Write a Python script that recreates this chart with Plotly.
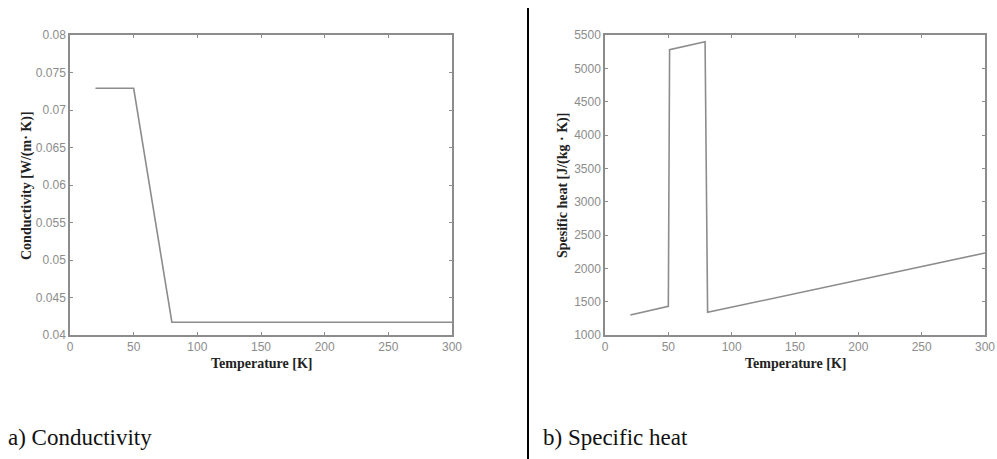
import plotly.graph_objects as go

# Thermal conductivity vs temperature
temp_k = [20, 50, 80, 300]
conductivity = [0.0729, 0.0729, 0.0417, 0.0417]

# Specific heat vs temperature
temp_c = [20, 50, 51, 79, 81, 300]
specific_heat = [1300, 1430, 5280, 5400, 1340, 2230]

x_ticks = [0, 50, 100, 150, 200, 250, 300]
k_ticks = [0.04, 0.045, 0.05, 0.055, 0.06, 0.065, 0.07, 0.075, 0.08]
k_labels = ["0.04", "0.045", "0.05", "0.055", "0.06", "0.065", "0.07", "0.075", "0.08"]
c_ticks = [1000, 1500, 2000, 2500, 3000, 3500, 4000, 4500, 5000, 5500]

W, H = 997, 459
LINE = "#8c8c8c"
TICKFONT = dict(family="Liberation Sans, Arial", size=12, color="#8c8c8c")
TITLEFONT = dict(family="Liberation Serif, Times New Roman", size=14, color="#222222")

fig = go.Figure()
fig.add_trace(go.Scatter(x=temp_k, y=conductivity, mode="lines",
                         line=dict(color=LINE, width=1.6), xaxis="x", yaxis="y",
                         showlegend=False))
fig.add_trace(go.Scatter(x=temp_c, y=specific_heat, mode="lines",
                         line=dict(color=LINE, width=1.6), xaxis="x2", yaxis="y2",
                         showlegend=False))

def px_x(p):
    return p / W

def px_y(p):
    return 1 - p / H

ydom = [px_y(335), px_y(35)]
axis_common = dict(showline=True, linecolor=LINE, linewidth=1.5, mirror="ticks",
                   ticks="inside", ticklen=3, tickcolor=LINE, tickwidth=1,
                   showgrid=False, zeroline=False, tickfont=TICKFONT)

fig.update_layout(
    width=W, height=H,
    margin=dict(l=0, r=0, t=0, b=0, pad=0, autoexpand=False),
    paper_bgcolor="white", plot_bgcolor="white",
    xaxis=dict(domain=[px_x(70), px_x(452)], range=[0, 300], tickvals=x_ticks,
               anchor="y", automargin=False, **axis_common),
    yaxis=dict(domain=ydom, range=[0.04, 0.08], tickvals=k_ticks, ticktext=k_labels,
               anchor="x", automargin=False, **axis_common),
    xaxis2=dict(domain=[px_x(605), px_x(985)], range=[0, 300], tickvals=x_ticks,
                anchor="y2", automargin=False, **axis_common),
    yaxis2=dict(domain=ydom, range=[1000, 5500], tickvals=c_ticks,
                anchor="x2", automargin=False, **axis_common),
)

def label(text, x, y, **kw):
    d = dict(text=text, x=px_x(x), y=px_y(y), xref="paper", yref="paper",
             showarrow=False, xanchor="center", yanchor="middle")
    d.update(kw)
    return d

ann = []
# axis titles
ann.append(label("<b>Temperature [K]</b>", 261, 363, font=TITLEFONT))
ann.append(label("<b>Temperature [K]</b>", 795, 363, font=TITLEFONT))
ann.append(label("<b>Conductivity [W/(m· K)]</b>", 27, 186, textangle=-90,
                 font=TITLEFONT))
ann.append(label("<b>Spesific heat [J/(kg · K)]</b>", 563, 186, textangle=-90,
                 font=TITLEFONT))
# panel captions
cap_font = dict(family="Liberation Serif, Times New Roman", size=23, color="#111111")
ann.append(label("a) Conductivity", 6, 437, xanchor="left", font=cap_font))
ann.append(label("b) Specific heat", 541, 437, xanchor="left", font=cap_font))
fig.update_layout(annotations=ann)

# divider between the two panels
fig.add_shape(type="line", xref="paper", yref="paper",
              x0=px_x(528), x1=px_x(528), y0=0, y1=px_y(8),
              line=dict(color="black", width=2))

fig.write_html("out.html")
